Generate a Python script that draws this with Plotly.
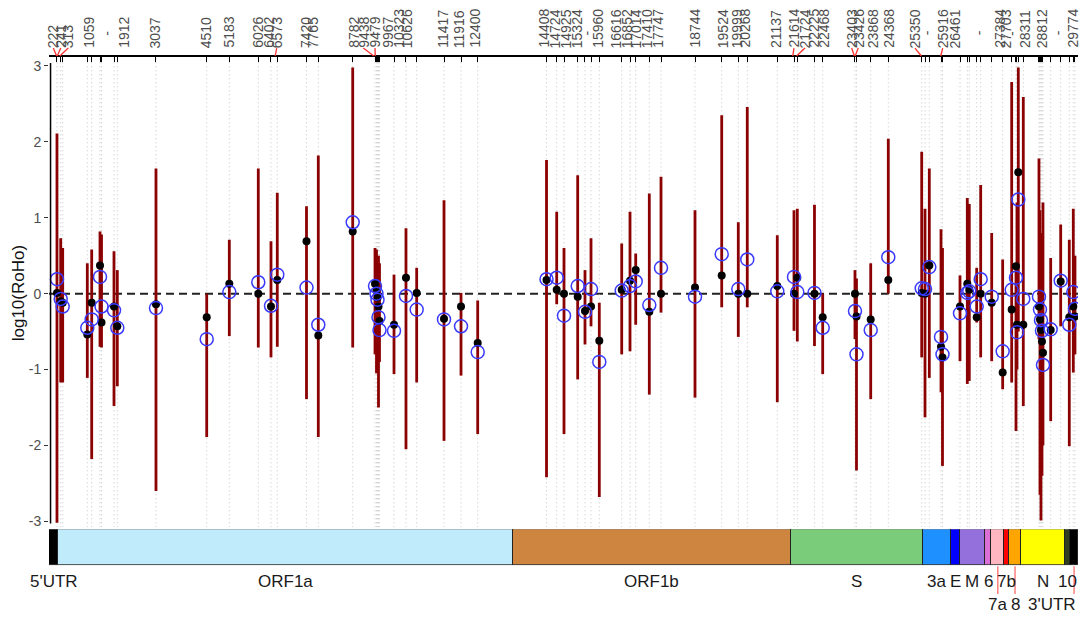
import plotly.graph_objects as go

GENOME_LEN = 29903

# ---- violin summaries (genomic position, min, max, median, mean of log10(RoHo)) ----
violin_pos = [232, 340, 398, 1113, 1241, 1482, 1526, 1889, 1985, 3109,
              4583, 5240, 6082, 6451, 6634, 7483, 7826, 8826, 9474, 9517,
              9546, 9575, 9604, 10026, 10374, 10685, 11479, 11973, 12458, 14458,
              14754, 14966, 15364, 15576, 15751, 15992, 16643, 16884, 17050, 17445,
              17785, 18773, 19549, 20031, 20292, 21164, 21650, 21746, 22245, 22484,
              23422, 23466, 23879, 24390, 25361, 25457, 25582, 25922, 25965, 26474,
              26686, 26744, 26959, 27075, 27395, 27714, 27976, 28101, 28130, 28168,
              28313, 28769, 28798, 28827, 28856, 28885, 29109, 29400, 29650, 29766,
              29815]
violin_lo = [-3.02, -1.17, -1.17, -1.11, -2.18, -0.70, -0.71, -1.48, -1.22, -2.60,
             -1.89, -0.56, -0.71, -0.84, -0.70, -1.39, -1.89, -0.71, -0.80, -1.05,
             -0.70, -1.50, -0.90, -1.06, -2.05, -1.17, -1.94, -1.08, -1.85, -2.42,
             -0.14, -1.85, -1.13, -0.67, -0.43, -2.68, -0.80, -0.76, -0.41, -1.33,
             -0.25, -1.37, -0.18, -0.57, -0.18, -1.43, -0.49, -0.63, -0.69, -1.06,
             -0.60, -2.33, -1.39, 0.00, -0.84, -1.63, -1.11, -1.30, -2.27, -0.89,
             -1.19, -1.15, -0.38, -0.84, -0.89, -1.26, -1.17, -1.81, -1.00, -0.50,
             -1.48, -0.60, -2.65, -2.99, -2.40, -2.00, -1.68, -0.43, -2.01, -1.04,
             -0.80]
violin_hi = [2.11, 0.73, 0.60, 0.40, 0.58, 0.82, 0.78, 0.56, 0.31, 1.65,
             0.00, 0.71, 1.65, 0.69, 1.33, 1.15, 1.82, 2.98, 0.60, 0.58,
             0.45, 0.50, 0.40, 0.25, 0.86, 0.34, 1.23, 0.01, -0.09, 1.76,
             1.08, 0.60, 1.56, 0.31, 0.73, -0.12, 0.66, 1.08, 0.53, 1.32,
             1.54, 1.10, 2.35, 0.94, 2.46, 0.77, 1.10, 1.12, 1.17, 0.00,
             0.31, 0.20, 0.40, 2.04, 1.87, 1.12, 1.65, 0.85, 0.60, 0.24,
             1.26, 1.18, 0.34, 1.43, 0.80, 0.45, 2.79, 0.38, 1.20, 2.98,
             2.59, 1.78, 1.10, 0.80, 0.50, 1.20, 0.47, 0.91, 0.71, 1.12,
             0.50]
violin_median = [0.01, -0.10, -0.12, -0.54, -0.12, 0.37, -0.38, -0.17, -0.43, -0.14,
                 -0.31, 0.13, 0.00, -0.17, 0.18, 0.69, -0.55, 0.82, 0.13, 0.04,
                 -0.05, -0.17, -0.36, -0.41, 0.21, 0.01, -0.33, -0.17, -0.65, 0.18,
                 0.05, 0.00, -0.04, -0.23, -0.17, -0.62, 0.05, 0.17, 0.31, -0.24,
                 0.00, 0.08, 0.24, 0.00, 0.00, 0.10, 0.00, 0.21, 0.00, -0.31,
                 0.00, -0.30, -0.34, 0.18, 0.01, 0.00, 0.37, -0.70, -0.84, -0.17,
                 0.13, 0.05, -0.31, 0.00, -0.12, -1.04, -0.21, 0.36, -0.41, 1.60,
                 -0.41, -0.17, -0.34, -0.48, -0.63, -0.78, -0.48, 0.16, -0.31, -0.17,
                 -0.30]
violin_mean = [0.19, -0.07, -0.17, -0.45, -0.34, 0.22, -0.17, -0.22, -0.45, -0.19,
               -0.60, 0.02, 0.15, -0.16, 0.25, 0.08, -0.41, 0.94, 0.10, 0.00,
               -0.08, -0.31, -0.48, -0.49, -0.03, -0.21, -0.34, -0.43, -0.77, 0.19,
               0.21, -0.29, 0.10, -0.24, 0.06, -0.90, 0.04, 0.10, 0.16, -0.15,
               0.34, -0.04, 0.52, 0.06, 0.45, 0.03, 0.22, 0.02, 0.01, -0.45,
               -0.23, -0.80, -0.48, 0.48, 0.07, 0.06, 0.35, -0.57, -0.80, -0.26,
               0.01, 0.03, -0.17, 0.19, -0.04, -0.76, 0.05, 0.21, -0.51, 1.24,
               -0.07, -0.04, -0.21, -0.35, -0.49, -0.94, -0.47, 0.17, -0.41, 0.02,
               -0.20]

# ---- top site labels ----
site_labels = ["222", "241", "313", "1059", "-", "1912", "3037", "4510", "5183", "6026",
               "6402", "6573", "7420", "7765", "8782", "9438", "-", "9479", "9967", "10323",
               "10626", "11417", "11916", "12400", "14408", "14724", "14925", "15324", "-", "15960",
               "16616", "16852", "17014", "17410", "17747", "18744", "19524", "19999", "20268", "21137",
               "21614", "21724", "22225", "22468", "23403", "23426", "23868", "24368", "25350", "-",
               "25916", "26461", "-", "27384", "27703", "-", "28311", "28812", "-", "29774"]
site_label_pos = [125, 340, 561, 1142, 1677, 2159, 3080, 4554, 5231, 6053,
                  6373, 6617, 7454, 7663, 8843, 9134, 9407, 9474, 9831, 10151,
                  10395, 11441, 11923, 12380, 14385, 14704, 15024, 15335, 15643, 15933,
                  16477, 16788, 17058, 17369, 17677, 18773, 19578, 19985, 20226, 21127,
                  21650, 21969, 22231, 22501, 23326, 23518, 23936, 24390, 25166, 25523,
                  25971, 26328, 27034, 27615, 27810, 27984, 28363, 28848, 29330, 29730]
repelled_labels = ["222", "241", "313", "6573", "9438", "9479", "21614", "21724",
                   "23403", "23426", "25350", "25916"]

# ---- genome annotation ----
gene_names = ["5'UTR", "ORF1a", "ORF1b", "S", "3a", "E", "M", "6", "7a", "7b", "8", "N", "10", "3'UTR"]
gene_start = [0, 265, 13483, 21555, 25384, 26220, 26472, 27191, 27387, 27759, 27887, 28259, 29533, 29674]
gene_colors = ["#000000", "#BFEBFA", "#CD853F", "#7ACC7A", "#1E90FF", "#0000FF", "#9370DB",
               "#DA70D6", "#FFB6C1", "#FF0000", "#FFA500", "#FFFF00", "#2F3F1F", "#000000"]
gene_label_row = [1, 1, 1, 1, 1, 1, 1, 1, 2, 1, 2, 1, 1, 2]

# ---- layout constants ----
FIG_W, FIG_H = 1081, 617
M_L, M_R, M_T, M_B = 49, 3, 57, 0
PAPER_H = FIG_H - M_T - M_B


def py(px):
    """pixel row -> paper fraction"""
    return (FIG_H - M_B - px) / PAPER_H


Y_LO, Y_HI = -3.079, 3.118
FONT = "Liberation Sans, Arial, sans-serif"

fig = go.Figure()

# dotted guide lines at every site
gx, gy = [], []
for p in violin_pos:
    gx += [p, p, None]
    gy += [Y_LO, Y_HI, None]
fig.add_trace(go.Scatter(x=gx, y=gy, xaxis="x2", yaxis="y", mode="lines",
                         line=dict(color="#c4c4c4", width=1, dash="1px,3px"),
                         hoverinfo="skip", showlegend=False))

# violin ranges
vx, vy = [], []
for p, lo, hi in zip(violin_pos, violin_lo, violin_hi):
    vx += [p, p, None]
    vy += [lo, hi, None]
fig.add_trace(go.Scatter(x=vx, y=vy, xaxis="x2", yaxis="y", mode="lines",
                         line=dict(color="#8B0000", width=2.8),
                         hoverinfo="skip", showlegend=False))

# medians
fig.add_trace(go.Scatter(x=violin_pos, y=violin_median, xaxis="x2", yaxis="y", mode="markers",
                         marker=dict(color="black", size=8),
                         showlegend=False))
# means
fig.add_trace(go.Scatter(x=violin_pos, y=violin_mean, xaxis="x2", yaxis="y", mode="markers",
                         marker=dict(symbol="circle-open", color="#3a3aff", size=13,
                                     line=dict(width=1.5, color="#3a3aff")),
                         showlegend=False))

# genome bar
gene_end = gene_start[1:] + [GENOME_LEN]
gene_width = [e - s for s, e in zip(gene_start, gene_end)]
fig.add_trace(go.Bar(x=gene_width, base=gene_start, y=[0] * len(gene_names),
                     orientation="h", xaxis="x", yaxis="y2", width=1,
                     marker=dict(color=gene_colors, line=dict(color="#222222", width=1)),
                     hoverinfo="skip", showlegend=False))

shapes = []
annotations = []

# zero reference line
shapes.append(dict(type="line", xref="x2 domain", x0=0, x1=1, yref="y", y0=0, y1=0,
                   line=dict(color="#222222", width=2, dash="8px,5px"), layer="below"))
# y axis line
shapes.append(dict(type="line", xref="paper", x0=0.0015, x1=0.0015, yref="y", y0=-3.03, y1=3.04,
                   line=dict(color="black", width=1.5)))

# top labels
LBL_SIZE = 14
for txt, lp in zip(site_labels, site_label_pos):
    if txt == "-":
        annotations.append(dict(x=lp, y=py(33), xref="x2", yref="paper", text=txt,
                                textangle=-90, showarrow=False, xanchor="center", yanchor="middle",
                                font=dict(size=LBL_SIZE, color="#4d4d4d", family=FONT)))
    else:
        annotations.append(dict(x=lp, y=py(50), xref="x2", yref="paper", text=txt,
                                textangle=-90, showarrow=False, xanchor="center", yanchor="bottom",
                                font=dict(size=LBL_SIZE, color="#4d4d4d", family=FONT)))
        if txt in repelled_labels:
            shapes.append(dict(type="line", xref="x2", yref="paper",
                               x0=lp, y0=py(48), x1=float(txt), y1=py(56),
                               line=dict(color="#ff3030", width=1.3)))

# gene labels
for name, s, e, row in zip(gene_names, gene_start, gene_end, gene_label_row):
    cx = (s + e) / 2
    ypx = 583 if row == 1 else 606
    if name == "3'UTR":
        annotations.append(dict(x=1.0, y=py(ypx), xref="paper", yref="paper", text=name,
                                showarrow=False, xanchor="right", yanchor="middle",
                                font=dict(size=17, color="#1a1a1a", family=FONT)))
    else:
        annotations.append(dict(x=cx, y=py(ypx), xref="x", yref="paper", text=name,
                                showarrow=False, xanchor="center", yanchor="middle",
                                font=dict(size=17, color="#1a1a1a", family=FONT)))
    if row == 2:
        shapes.append(dict(type="line", xref="x", yref="paper", x0=cx, x1=cx,
                           y0=py(568), y1=py(596),
                           line=dict(color="#ff6060", width=1.2)))

# y axis title
annotations.append(dict(x=-0.030, y=py(294), xref="paper", yref="paper", text="log10(RoHo)",
                        textangle=-90, showarrow=False, xanchor="center", yanchor="middle",
                        font=dict(size=17, color="#111111", family=FONT)))

fig.update_layout(
    width=FIG_W, height=FIG_H,
    margin=dict(l=M_L, r=M_R, t=M_T, b=M_B),
    paper_bgcolor="white", plot_bgcolor="white",
    font=dict(family=FONT),
    showlegend=False,
    xaxis=dict(domain=[0, 1], range=[0, GENOME_LEN], visible=False, anchor="y2"),
    xaxis2=dict(domain=[0, 1], side="top", anchor="y", range=[0, GENOME_LEN],
                showline=True, linecolor="black", linewidth=2, mirror=False,
                ticks="inside", ticklen=5, tickwidth=1, tickcolor="black",
                tickvals=violin_pos, showticklabels=False, showgrid=False, zeroline=False),
    yaxis=dict(domain=[py(529), 1], range=[Y_LO, Y_HI], anchor="x2",
               tickvals=[-3, -2, -1, 0, 1, 2, 3],
               ticktext=["-3", "-2", "-1", "0", "1", "2", "3"],
               ticks="outside", ticklen=4, tickcolor="#333333",
               tickfont=dict(size=14, color="#4d4d4d", family=FONT),
               showgrid=False, zeroline=False, showline=False),
    yaxis2=dict(domain=[py(567), py(531)], range=[-0.5, 0.5], visible=False, anchor="x"),
    shapes=shapes,
    annotations=annotations,
    bargap=0,
)

fig.write_html("out.html", config={"displayModeBar": False},
               post_script="document.body.style.margin='0';")
